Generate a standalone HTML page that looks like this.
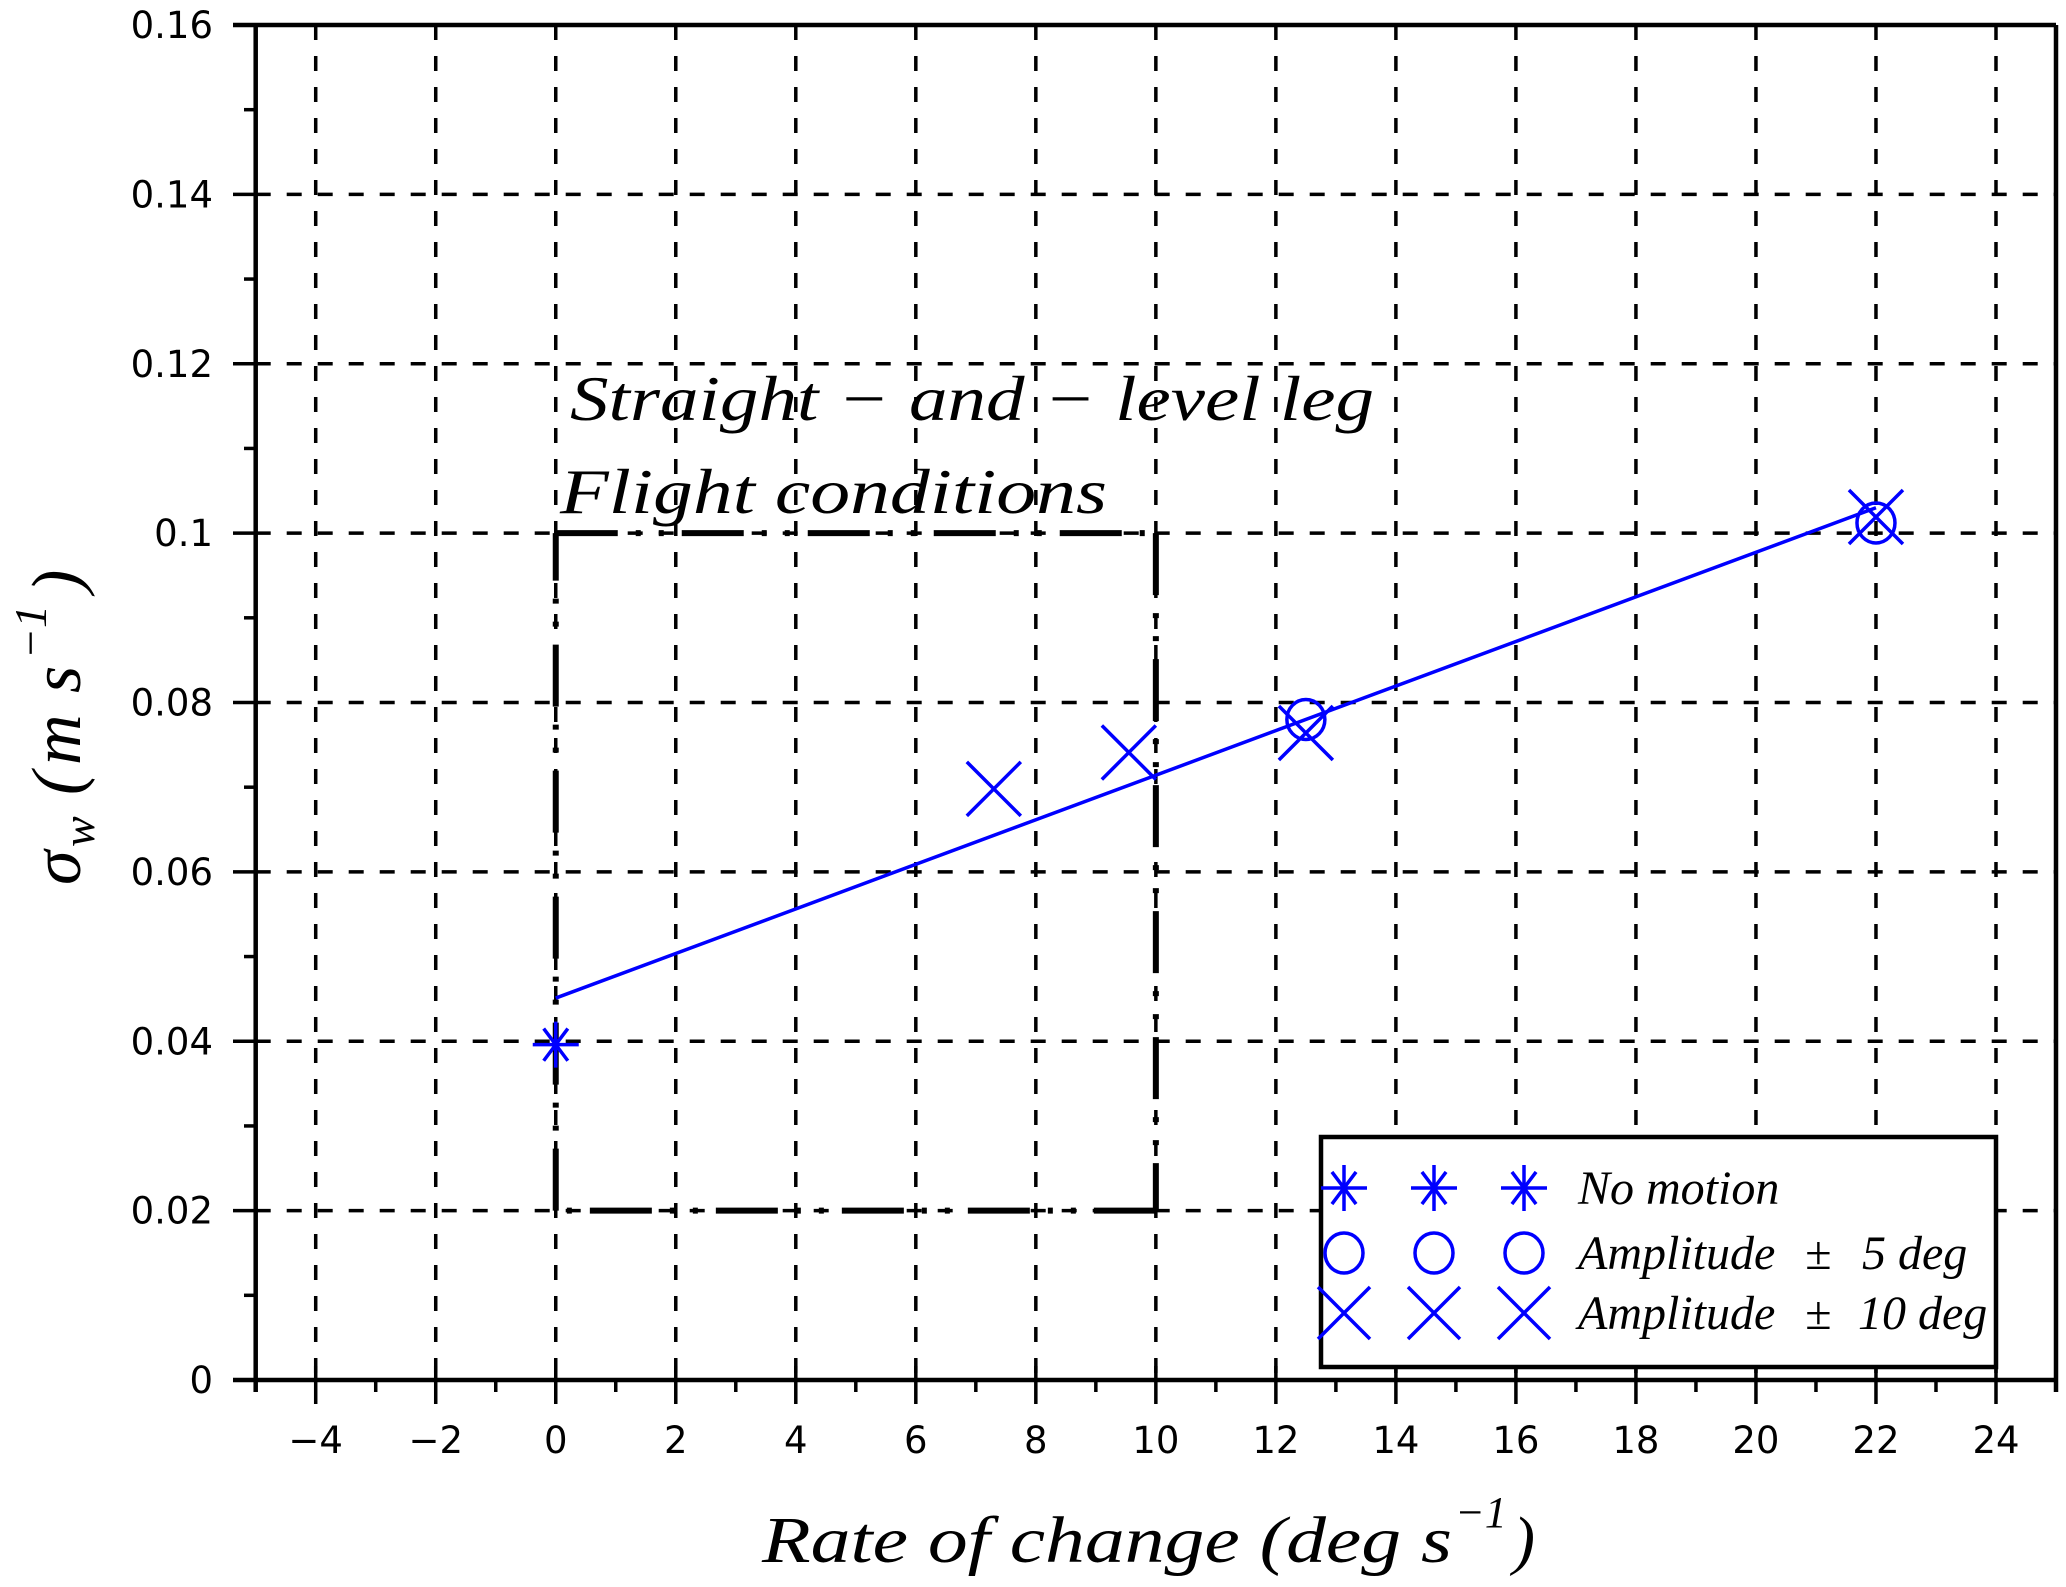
<!DOCTYPE html>
<html>
<head>
<meta charset="utf-8">
<style>
html,body{margin:0;padding:0;background:#fff;}
svg{display:block;}
.tick{font-family:"DejaVu Sans","Liberation Sans",sans-serif;font-size:37px;fill:#000;}
.math{font-family:"Liberation Serif","DejaVu Serif",serif;font-style:italic;fill:#000;}
</style>
</head>
<body>
<svg id="chart" width="2066" height="1587" viewBox="0 0 2066 1587" xmlns="http://www.w3.org/2000/svg">
  <rect x="0" y="0" width="2066" height="1587" fill="#fff"/>
  <g id="grid"></g>
  <g id="box"></g>
  <g id="series"></g>
  <g id="axes"></g>
  <text class="math" x="570" y="420" font-size="64" textLength="804" lengthAdjust="spacingAndGlyphs">Straight − and − level leg</text>
  <text class="math" x="560" y="513" font-size="64" textLength="547" lengthAdjust="spacingAndGlyphs">Flight conditions</text>
  <text class="math" x="762" y="1562" font-size="66" textLength="690" lengthAdjust="spacingAndGlyphs">Rate of change (deg s</text>
  <text class="math" x="1455" y="1527" font-size="44" font-style="normal">−1</text>
  <text class="math" x="1513" y="1562" font-size="66" font-style="normal">)</text>
  <g transform="translate(80,885) rotate(-90)">
    <text class="math" x="0" y="0" font-size="70">σ</text>
    <text class="math" x="38" y="14" font-size="46">w</text>
    <text class="math" x="90" y="0" font-size="70" font-style="normal">(</text>
    <text class="math" x="120" y="0" font-size="70">m</text>
    <text class="math" x="192" y="0" font-size="70">s</text>
    <text class="math" x="226" y="-34" font-size="46" font-style="normal">−1</text>
    <text class="math" x="292" y="0" font-size="70" font-style="normal">)</text>
  </g>
  <g id="legend"></g>
</svg>
<script>
// ---- data ----
const xTicks = [-4,-2,0,2,4,6,8,10,12,14,16,18,20,22,24];
const xTickLabels = ["−4","−2","0","2","4","6","8","10","12","14","16","18","20","22","24"];
const yTicks = [0,0.02,0.04,0.06,0.08,0.1,0.12,0.14,0.16];
const yTickLabels = ["0","0.02","0.04","0.06","0.08","0.1","0.12","0.14","0.16"];
const noMotionX = [0];
const noMotionY = [0.0396];
const amp5X = [12.5, 22];
const amp5Y = [0.078, 0.1012];
const amp10X = [7.3, 9.55, 12.5, 22];
const amp10Y = [0.0698, 0.0741, 0.0764, 0.1019];
const fitX = [0, 22];
const fitY = [0.0451, 0.103];
const boxX = [0, 10];
const boxY = [0.02, 0.1];
const xDomain = [-5, 25];
const yDomain = [0, 0.16];

// ---- scales ----
const L = 255.7, R = 2056, T = 25, B = 1380;
const sx = v => L + (v - xDomain[0]) / (xDomain[1] - xDomain[0]) * (R - L);
const sy = v => B - (v - yDomain[0]) / (yDomain[1] - yDomain[0]) * (B - T);
const NS = "http://www.w3.org/2000/svg";
function mk(tag, attrs, parent) {
  const e = document.createElementNS(NS, tag);
  for (const k in attrs) e.setAttribute(k, attrs[k]);
  parent.appendChild(e);
  return e;
}
const grid = document.getElementById('grid');
const axes = document.getElementById('axes');
const series = document.getElementById('series');
const boxG = document.getElementById('box');
const legend = document.getElementById('legend');

// gridlines
xTicks.forEach(v => {
  const l = mk('line', {x1: sx(v), x2: sx(v), y1: T, y2: B, stroke: '#000', 'stroke-width': 3.5, 'stroke-dasharray': '15 16'}, grid);
  
  
});
yTicks.forEach(v => {
  if (v === yDomain[0] || v === yDomain[1]) return;
  const l = mk('line', {x1: L, x2: R, y1: sy(v), y2: sy(v), stroke: '#000', 'stroke-width': 3.5, 'stroke-dasharray': '15 16'}, grid);
  
  
});

// dash-dot box, four sides
const bx0 = sx(boxX[0]), bx1 = sx(boxX[1]), by0 = sy(boxY[0]), by1 = sy(boxY[1]);
const sides = [[bx0, by1, bx1, by1], [bx1, by1, bx1, by0], [bx1, by0, bx0, by0], [bx0, by0, bx0, by1]];
sides.forEach(s => {
  const l = mk('line', {x1: s[0], y1: s[1], x2: s[2], y2: s[3], stroke: '#000', 'stroke-width': 6, 'stroke-dasharray': '62 18 5 18 5 18'}, boxG);
  
  
});

// axes spines
const spines = [
  [233, T, R, T], [L, 27, L, 1392], [233, B, R, B], [R, T, R, 1392]
];
spines.forEach(s => {
  const l = mk('line', {x1: s[0], y1: s[1], x2: s[2], y2: s[3], stroke: '#000', 'stroke-width': 4.5}, axes);
  
  
});
// x ticks
xTicks.forEach((v, i) => {
  const l = mk('line', {x1: sx(v), x2: sx(v), y1: 1366, y2: 1404, stroke: '#000', 'stroke-width': 3.5}, axes);
  
  
  const t = mk('text', {x: sx(v), y: 1453, 'text-anchor': 'middle', class: 'tick'}, axes);
  t.textContent = xTickLabels[i];
  
  
});
for (let v = xDomain[0] + 2; v < xDomain[1]; v += 2) {
  const l = mk('line', {x1: sx(v), x2: sx(v), y1: B, y2: 1392, stroke: '#000', 'stroke-width': 3.5}, axes);
  
  
}
// y ticks
yTicks.forEach((v, i) => {
  const l = mk('line', {x1: 233, x2: L, y1: sy(v), y2: sy(v), stroke: '#000', 'stroke-width': 3.5}, axes);
  
  
  const t = mk('text', {x: 213, y: sy(v) + 13, 'text-anchor': 'end', class: 'tick'}, axes);
  t.textContent = yTickLabels[i];
  
  
});
for (let k = 0; k < 8; k++) {
  const v = 0.01 + k * 0.02;
  const l = mk('line', {x1: 244, x2: L, y1: sy(v), y2: sy(v), stroke: '#000', 'stroke-width': 3.5}, axes);
  
  
}

// markers
const BLUE = '#0000ff';
function star(cx, cy, r, parent) {
  const g = mk('g', {stroke: BLUE, 'stroke-width': 3.5, fill: 'none'}, parent);
  const d = r * 0.7;
  mk('path', {d: `M${cx-r},${cy}H${cx+r}M${cx},${cy-r}V${cy+r}M${cx-d*0.75},${cy-d}L${cx+d*0.75},${cy+d}M${cx+d*0.75},${cy-d}L${cx-d*0.75},${cy+d}`}, g);
  return g;
}
function circ(cx, cy, r, parent) {
  return mk('ellipse', {cx: cx, cy: cy, rx: r * 0.95, ry: r, stroke: BLUE, 'stroke-width': 3.5, fill: 'none'}, parent);
}
function cross(cx, cy, r, parent) {
  return mk('path', {d: `M${cx-r},${cy-r}L${cx+r},${cy+r}M${cx+r},${cy-r}L${cx-r},${cy+r}`, stroke: BLUE, 'stroke-width': 3.5, fill: 'none'}, parent);
}

const fit = mk('line', {x1: sx(fitX[0]), y1: sy(fitY[0]), x2: sx(fitX[1]), y2: sy(fitY[1]), stroke: BLUE, 'stroke-width': 3.5}, series);



noMotionX.forEach((v, i) => {
  const m = star(sx(v), sy(noMotionY[i]), 23, series);
  
  
});
amp5X.forEach((v, i) => {
  const m = circ(sx(v), sy(amp5Y[i]), 20, series);
  
  
});
amp10X.forEach((v, i) => {
  const m = cross(sx(v), sy(amp10Y[i]), 27, series);
  
  
});

// legend
const lb = mk('rect', {x: 1321, y: 1137, width: 675, height: 230, fill: '#fff', stroke: '#000', 'stroke-width': 4.5}, legend);


const lx = [1344, 1434, 1524];
const rows = [
  {y: 1188, kind: 'star', label: 'No motion', tail: ''},
  {y: 1253, kind: 'circ', label: 'Amplitude', tail: '5 deg'},
  {y: 1313, kind: 'cross', label: 'Amplitude', tail: '10 deg'}
];
rows.forEach((r, ri) => {
  const g = mk('g', {}, legend);
  
  
  lx.forEach(x => {
    if (r.kind === 'star') star(x, r.y, 23, g);
    else if (r.kind === 'circ') circ(x, r.y, 20, g);
    else cross(x, r.y, 26, g);
  });
  const t = mk('text', {x: 1578, y: r.y + 16, 'font-size': 48, class: 'math'}, g);
  t.textContent = r.label;
  
  
  if (r.tail) {
    const pm = mk('text', {x: 1805, y: r.y + 16, 'font-size': 48, class: 'math', 'font-style': 'normal'}, g);
    pm.textContent = '±';
    
    
    const tl = mk('text', {x: r.tail === '5 deg' ? 1862 : 1858, y: r.y + 16, 'font-size': 48, class: 'math'}, g);
    tl.textContent = r.tail;
    
    
  }
});
</script>
</body>
</html>
